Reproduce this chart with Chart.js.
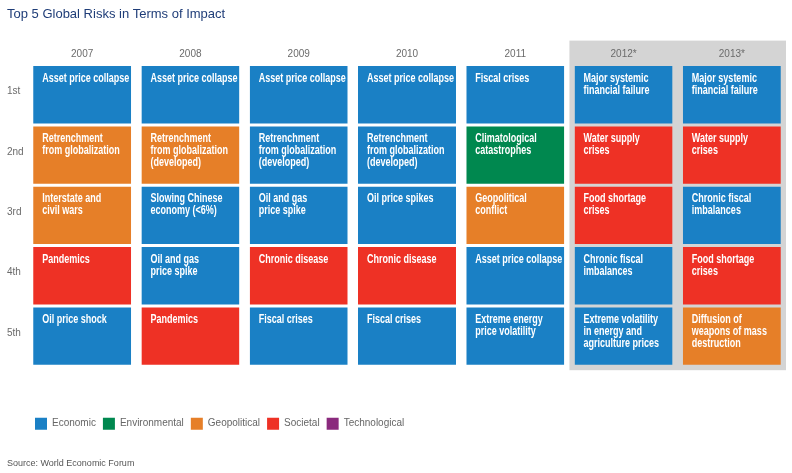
<!DOCTYPE html>
<html>
<head>
<meta charset="utf-8">
<script src="https://cdn.jsdelivr.net/npm/chart.js@4/dist/chart.umd.min.js"></script>
<style>
  html, body { margin: 0; padding: 0; background: #fff; }
  #wrap { width: 792px; height: 473px; position: relative; }
</style>
</head>
<body>
<div id="wrap"><canvas id="risksChart"></canvas></div>
<script>
const years = ['2007', '2008', '2009', '2010', '2011', '2012*', '2013*'];
const ranks = ['1st', '2nd', '3rd', '4th', '5th'];
const riskTypes = ['Economic', 'Environmental', 'Geopolitical', 'Societal', 'Technological'];

// one list per rank, one entry per year
const rank1Risks = ['Asset price collapse', 'Asset price collapse', 'Asset price collapse', 'Asset price collapse',
  'Fiscal crises', 'Major systemic\nfinancial failure', 'Major systemic\nfinancial failure'];
const rank1Types = ['Economic', 'Economic', 'Economic', 'Economic', 'Economic', 'Economic', 'Economic'];

const rank2Risks = ['Retrenchment\nfrom globalization', 'Retrenchment\nfrom globalization\n(developed)',
  'Retrenchment\nfrom globalization\n(developed)', 'Retrenchment\nfrom globalization\n(developed)',
  'Climatological\ncatastrophes', 'Water supply\ncrises', 'Water supply\ncrises'];
const rank2Types = ['Geopolitical', 'Geopolitical', 'Economic', 'Economic', 'Environmental', 'Societal', 'Societal'];

const rank3Risks = ['Interstate and\ncivil wars', 'Slowing Chinese\neconomy (<6%)', 'Oil and gas\nprice spike',
  'Oil price spikes', 'Geopolitical\nconflict', 'Food shortage\ncrises', 'Chronic fiscal\nimbalances'];
const rank3Types = ['Geopolitical', 'Economic', 'Economic', 'Economic', 'Geopolitical', 'Societal', 'Economic'];

const rank4Risks = ['Pandemics', 'Oil and gas\nprice spike', 'Chronic disease', 'Chronic disease',
  'Asset price collapse', 'Chronic fiscal\nimbalances', 'Food shortage\ncrises'];
const rank4Types = ['Societal', 'Economic', 'Societal', 'Societal', 'Economic', 'Economic', 'Societal'];

const rank5Risks = ['Oil price shock', 'Pandemics', 'Fiscal crises', 'Fiscal crises',
  'Extreme energy\nprice volatility', 'Extreme volatility\nin energy and\nagriculture prices',
  'Diffusion of\nweapons of mass\ndestruction'];
const rank5Types = ['Economic', 'Societal', 'Economic', 'Economic', 'Economic', 'Economic', 'Geopolitical'];

const projectedYears = ['2012*', '2013*'];

const typeColors = {
  Economic: '#1a80c5',
  Environmental: '#00884f',
  Geopolitical: '#e67f28',
  Societal: '#ee3125',
  Technological: '#8a2a7d'
};

const rankRisks = [rank1Risks, rank2Risks, rank3Risks, rank4Risks, rank5Risks];
const rankTypes = [rank1Types, rank2Types, rank3Types, rank4Types, rank5Types];

const plainFont = '"Liberation Sans", Arial, sans-serif';
const cellFont = 'bold 12px ' + plainFont;
const squeeze = 0.75; // the original uses a condensed face

// grey panel behind the projected years, drawn before the axes so the year labels sit on it
const projectedBackground = {
  id: 'projectedBackground',
  beforeDraw(chart) {
    const { ctx, chartArea, scales: { x } } = chart;
    const first = years.indexOf(projectedYears[0]);
    const half = (x.getPixelForValue(1) - x.getPixelForValue(0)) / 2;
    const left = x.getPixelForValue(first) - half;
    ctx.save();
    ctx.fillStyle = '#d4d4d4';
    ctx.fillRect(left, chartArea.top - 24, chartArea.right - left, chartArea.bottom - chartArea.top + 28);
    ctx.restore();
  }
};

// risk names written inside each cell
const cellLabels = {
  id: 'cellLabels',
  afterDatasetsDraw(chart) {
    const { ctx } = chart;
    ctx.save();
    ctx.fillStyle = '#ffffff';
    ctx.font = cellFont;
    ctx.textBaseline = 'alphabetic';
    ctx.textAlign = 'left';
    chart.data.datasets.forEach((ds, di) => {
      chart.getDatasetMeta(di).data.forEach((bar, i) => {
        const { x, y, base, width } = bar.getProps(['x', 'y', 'base', 'width'], true);
        const top = Math.min(y, base);
        const lines = rankRisks[di][i].split('\n');
        lines.forEach((line, li) => {
          ctx.save();
          ctx.translate(x - width / 2 + 9, top + 17 + li * 12);
          ctx.scale(squeeze, 1);
          ctx.fillText(line, 0, 0);
          ctx.restore();
        });
      });
    });
    ctx.restore();
  }
};

new Chart(document.getElementById('risksChart'), {
  type: 'bar',
  data: {
    labels: years,
    datasets: ranks.map((rank, r) => ({
      label: rank,
      data: years.map(() => 1),
      backgroundColor: rankTypes[r].map(t => typeColors[t]),
      borderColor: 'rgba(0,0,0,0)',
      borderWidth: { top: 1.5, bottom: 1.5, left: 0, right: 0 },
      borderSkipped: false,
      categoryPercentage: 0.905,
      barPercentage: 1
    }))
  },
  options: {
    responsive: true,
    maintainAspectRatio: false,
    animation: false,
    layout: { padding: { left: 7, right: 6, top: 6, bottom: 4 } },
    scales: {
      x: {
        position: 'top',
        stacked: true,
        grid: { display: false, drawTicks: false },
        border: { display: false },
        ticks: { color: '#6b6b6b', padding: 4, font: { family: plainFont, size: 10 } }
      },
      y: {
        stacked: true,
        reverse: true,
        min: 0,
        max: 5,
        grid: { display: false, drawTicks: false },
        border: { display: false },
        afterBuildTicks(scale) {
          scale.ticks = ranks.map((r, i) => ({ value: i + 0.45 }));
        },
        afterFit(scale) {
          scale.width = 21;
        },
        ticks: {
          crossAlign: 'far',
          padding: 0,
          color: '#6b6b6b',
          font: { family: plainFont, size: 10 },
          callback: (v) => ranks[Math.floor(v)]
        }
      }
    },
    plugins: {
      title: {
        display: true,
        text: 'Top 5 Global Risks in Terms of Impact',
        align: 'start',
        color: '#1f3d78',
        font: { family: plainFont, size: 13, weight: 'normal' },
        padding: { top: 1, bottom: 22 }
      },
      subtitle: {
        display: true,
        position: 'bottom',
        text: 'Source: World Economic Forum',
        align: 'start',
        color: '#555555',
        font: { family: plainFont, size: 9 },
        padding: { top: 18.5, bottom: 0 }
      },
      legend: {
        position: 'bottom',
        align: 'start',
        fullSize: false,
        title: { display: true, text: ' ', padding: { top: 32.5, bottom: 0 }, font: { size: 10 } },
        labels: {
          boxWidth: 12,
          boxHeight: 12,
          padding: 7,
          color: '#808080',
          font: { family: plainFont, size: 10 },
          generateLabels: () => riskTypes.map(t => ({
            text: t,
            fillStyle: typeColors[t],
            strokeStyle: typeColors[t],
            lineWidth: 0,
            hidden: false
          }))
        },
        onClick: () => {}
      },
      tooltip: { enabled: false }
    }
  },
  plugins: [projectedBackground, cellLabels]
});
</script>
</body>
</html>
